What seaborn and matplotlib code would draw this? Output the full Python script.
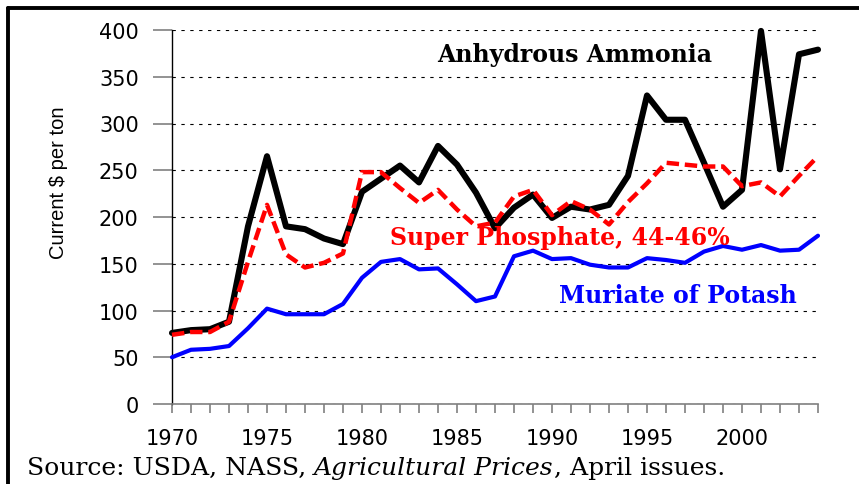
import matplotlib
matplotlib.use("Agg")
import matplotlib.pyplot as plt
from matplotlib.lines import Line2D
import seaborn as sns

# Style
sns.set_style("white")
plt.rcParams["text.color"] = "black"

# -------------------------------
# DATA (current $ per ton, April prices)
# -------------------------------
years = list(range(1970, 2005))

ammonia = [76, 79, 80, 88, 190, 265, 190, 187, 177, 171,
           227, 241, 255, 237, 276, 256, 226, 188, 210, 224,
           199, 211, 208, 213, 244, 330, 304, 304, 258, 211,
           229, 399, 251, 374, 379]

phosphate = [74, 77, 77, 88, 152, 213, 160, 146, 151, 161,
             248, 248, 231, 215, 229, 208, 190, 194, 222, 229,
             202, 217, 208, 192, 216, 236, 258, 256, 254, 254,
             233, 237, 222, 244, 265]

potash = [50, 58, 59, 62, 81, 102, 96, 96, 96, 107,
          135, 152, 155, 144, 145, 128, 110, 115, 158, 164,
          155, 156, 149, 146, 146, 156, 154, 151, 163, 169,
          165, 170, 164, 165, 180]

labels = ["Anhydrous Ammonia", "Super Phosphate, 44-46%", "Muriate of Potash"]
major_years = [1970, 1975, 1980, 1985, 1990, 1995, 2000]
y_ticks = [0, 50, 100, 150, 200, 250, 300, 350, 400]

# -------------------------------
# FIGURE
# -------------------------------
W, H = 859, 485
fig = plt.figure(figsize=(W / 100, H / 100), dpi=100)
ax = fig.add_axes([172 / W, 1 - 405 / H, (818 - 172) / W, (405 - 31) / H])

sns.lineplot(x=years, y=ammonia, color="black", lw=4.4, ax=ax,
             zorder=3, clip_on=False)
sns.lineplot(x=years, y=phosphate, color="#FF0000", lw=3.2, ax=ax,
             linestyle=(0, (2.8, 1.3)), zorder=4, clip_on=False)
sns.lineplot(x=years, y=potash, color="#0000FF", lw=3.0, ax=ax,
             zorder=3, clip_on=False)

ax.set_xlim(1970, 2004)
ax.set_ylim(0, 400)
ax.set_xticks(major_years)
ax.set_xticks(years, minor=True)
ax.set_yticks(y_ticks)
ax.set_xticklabels([str(y) for y in major_years])

ax.yaxis.grid(True, linestyle=(0, (3, 5)), color="black", lw=0.8)
ax.xaxis.grid(False)
ax.set_axisbelow(True)

for s in ["top", "right"]:
    ax.spines[s].set_visible(False)
ax.spines["left"].set_color("black")
ax.spines["left"].set_linewidth(1.0)
ax.spines["bottom"].set_color("gray")
ax.spines["bottom"].set_linewidth(1.2)

ax.tick_params(axis="y", left=True, direction="out", length=14, width=1.2,
               color="gray", labelcolor="black", pad=10, labelsize=15)
ax.tick_params(axis="x", which="both", bottom=True, direction="out",
               length=6.5, width=1.2, color="gray", labelcolor="black",
               pad=11, labelsize=15)

# line labels
ann = dict(family="DejaVu Serif", fontweight="bold", fontsize=17,
           ha="center", va="baseline")
ax.text(1991.2, 367, labels[0], color="black", **ann)
ax.text(1990.4, 171, labels[1], color="#FF0000", **ann)
ax.text(1996.6, 109, labels[2], color="#0000FF", **ann)

# y axis label
fig.text(59 / W, 1 - 183 / H, "Current $ per ton", rotation=90,
         ha="center", va="center", fontsize=14.5, family="Liberation Sans")

# frame around the figure
fig.add_artist(Line2D([7.5 / W, 1], [1 - 9 / H, 1 - 9 / H],
                      transform=fig.transFigure, color="black", lw=2.8))
fig.add_artist(Line2D([7.5 / W, 7.5 / W], [0, 1 - 9 / H],
                      transform=fig.transFigure, color="black", lw=2.8))

# source line, mixed roman / italic
renderer = fig.canvas.get_renderer()
src_size = 18
gap = 0.3 * src_size * 100 / 72
x0 = 27
base = H - 475
parts = [("Source: USDA, NASS,", "normal"),
         ("Agricultural Prices", "italic"),
         (", April issues.", "normal")]
for i, (txt, style) in enumerate(parts):
    t = fig.text(x0 / W, base / H, txt, fontsize=src_size, family="DejaVu Serif",
                 style=style, ha="left", va="baseline")
    bb = t.get_window_extent(renderer)
    x0 = bb.x1 + (gap if i == 0 else 1)

fig.savefig("out.png", dpi=100)
